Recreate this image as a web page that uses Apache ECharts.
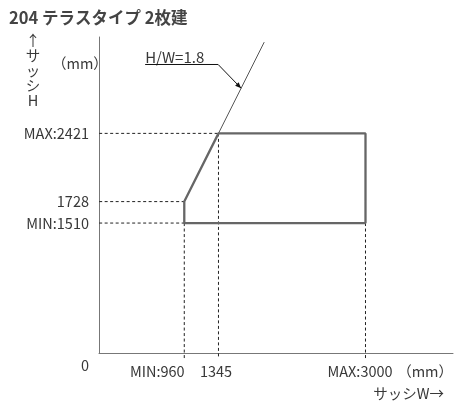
<!DOCTYPE html>
<html><head><meta charset="utf-8">
<script src="https://cdn.jsdelivr.net/npm/echarts@6/dist/echarts.min.js"></script>
<style>html,body{margin:0;padding:0;background:#fff}#c{width:455px;height:405px}</style>
</head><body><div id="c"></div>
<script>
const titleText = '204 テラスタイプ 2枚建';
// frame of allowed sizes (W, H in mm)
const frameW = [960, 960, 1345, 3000, 3000, 960];
const frameH = [1510, 1728, 2421, 2421, 1510, 1510];
// H/W = 1.8 reference line
const ratioW = [1345, 1860];
const ratioH = [2421, 3348];
const ratioLabel = 'H/W=1.8';
// tick values and labels
const xTicks = [960, 1345, 3000];
const xTickLabels = ['MIN:960', '1345', 'MAX:3000'];
const yTicks = [1510, 1728, 2421];
const yTickLabels = ['MIN:1510', '1728', 'MAX:2421'];
// guide lines: [value, extent]
const hGuides = [[2421, 1345], [1728, 960], [1510, 960]]; // y value -> to x
const vGuides = [[960, 1510], [1345, 2421], [3000, 1510]]; // x value -> from y

const X_MIN = 0, X_MAX = 3985, Y_MIN = 190, Y_MAX = 3400;
const FONT = "'Noto Sans CJK JP', 'Noto Sans', sans-serif";
const TXT = '#383838';
const FS = 14.5;

const chart = echarts.init(document.getElementById('c'), null, {renderer: 'canvas'});

const guideData = [];
hGuides.forEach(([y, x]) => { guideData.push([X_MIN - 60, y], [x, y], null); });
vGuides.forEach(([x, y]) => { guideData.push([x, y], [x, Y_MIN - 55], null); });

const xOffsets = {960: 54, 1345: 5, 3000: 11};

chart.setOption({
  animation: false,
  grid: {left: 99, right: 2, top: 37, bottom: 52, containLabel: false},
  xAxis: {
    type: 'value', min: X_MIN, max: X_MAX,
    axisLine: {show: true, onZero: false, lineStyle: {color: '#777', width: 1}},
    axisTick: {show: false}, splitLine: {show: false},
    axisLabel: {
      customValues: xTicks, margin: 11, color: TXT, fontFamily: FONT, fontSize: FS,
      formatter: v => { const i = xTicks.indexOf(v); return i < 0 ? '' : '{p' + v + '|' + xTickLabels[i] + '}'; },
      rich: Object.fromEntries(xTicks.map(v => ['p' + v, {padding: [0, xOffsets[v], 0, 0], color: TXT, fontFamily: FONT, fontSize: FS}]))
    }
  },
  yAxis: {
    type: 'value', min: Y_MIN, max: Y_MAX,
    axisLine: {show: true, onZero: false, lineStyle: {color: '#777', width: 1}},
    axisTick: {show: false}, splitLine: {show: false},
    axisLabel: {
      customValues: yTicks, margin: 10, color: TXT, fontFamily: FONT, fontSize: FS,
      formatter: v => { const i = yTicks.indexOf(v); return i < 0 ? '' : yTickLabels[i]; }
    }
  },
  series: [
    {type: 'line', data: guideData, clip: false, symbol: 'none', silent: true, connectNulls: false,
     lineStyle: {color: '#222', width: 1, type: [3, 2.5]}, z: 1},
    {type: 'line', data: ratioW.map((w, i) => [w, ratioH[i]]), clip: false, symbol: 'none',
     lineStyle: {color: '#555', width: 1}, z: 2},
    {type: 'line', data: frameW.map((w, i) => [w, frameH[i]]), clip: false, symbol: 'none',
     lineStyle: {color: '#666', width: 2.3}, z: 3}
  ]
});

// annotation leader pointing at the ratio line
const tipW = 1600, tipH = 2880;
const tip = chart.convertToPixel({gridIndex: 0}, [tipW, tipH]);
const elbow = [tip[0] - 23, tip[1] - 23.7];
const textLeft = elbow[0] - 73;

chart.setOption({
  graphic: [
    {type: 'text', left: 9, top: 9, style: {text: titleText, fill: '#444', font: 'bold 16.5px ' + FONT}},
    {type: 'text', x: 33, y: 32.5, style: {text: '↑\nサ\nッ\nシ\nH', fill: TXT, font: FS + 'px ' + FONT, align: 'center', lineHeight: 15}},
    {type: 'text', x: 52, y: 63, style: {text: '（mm）', fill: TXT, font: FS + 'px ' + FONT, verticalAlign: 'middle'}},
    {type: 'text', x: 85, y: 365, style: {text: '0', fill: TXT, font: FS + 'px ' + FONT, align: 'center', verticalAlign: 'middle'}},
    {type: 'text', x: 453, y: 371, style: {text: '（mm）', fill: TXT, font: FS + 'px ' + FONT, align: 'right', verticalAlign: 'middle'}},
    {type: 'text', x: 444, y: 393, style: {text: 'サッシW→', fill: TXT, font: FS + 'px ' + FONT, align: 'right', verticalAlign: 'middle'}},
    {type: 'text', x: textLeft, y: elbow[1] - 7.5, style: {text: ratioLabel, fill: TXT, font: '15px ' + FONT, verticalAlign: 'middle'}},
    {type: 'polyline', shape: {points: [[textLeft, elbow[1]], elbow, tip]}, style: {stroke: '#111', lineWidth: 1, fill: null}},
    {type: 'polygon', shape: {points: [tip, [tip[0] - 6, tip[1] - 2.5], [tip[0] - 2.5, tip[1] - 6]]}, style: {fill: '#111'}}
  ]
});
</script></body></html>
